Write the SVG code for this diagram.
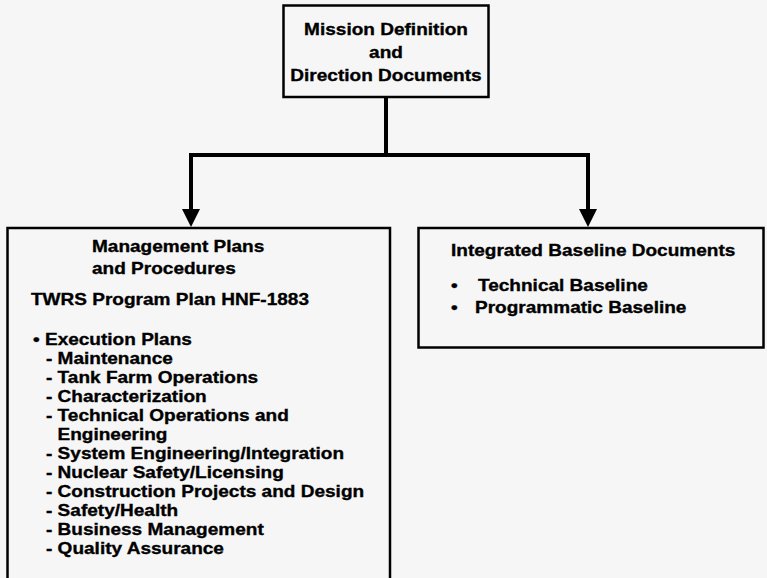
<svg xmlns="http://www.w3.org/2000/svg" width="767" height="578" viewBox="0 0 767 578">
  <style>
    .box { fill: none; stroke: #000; stroke-width: 2.5; }
    .wire { fill: none; stroke: #000; stroke-width: 4; stroke-linejoin: miter; stroke-linecap: square; }
    .head { fill: #000; }
    text { font-family: "Liberation Sans", Arial, Helvetica, sans-serif; font-weight: bold; font-size: 17px; fill: #000; stroke: #000; stroke-width: 0.35; }
    .mid { text-anchor: middle; }
  </style>
  <rect width="767" height="578" fill="#f6f6f6"/>

  <!-- connectors: trunk, crossbar and two drops with arrowheads -->
  <g id="connectors">
    <path class="wire" d="M386,98 V155 M191,155 H588 M191,155 V210 M588,155 V210"/>
    <polygon class="head" points="182,209 200,209 191,227"/>
    <polygon class="head" points="579,209 597,209 588,227"/>
  </g>

  <!-- top node -->
  <g id="mission">
    <rect class="box" x="283.5" y="5.5" width="205" height="91.5"/>
    <text class="mid" transform="translate(386,35) scale(1.12,1)">Mission Definition</text>
    <text class="mid" transform="translate(386,58) scale(1.12,1)">and</text>
    <text class="mid" transform="translate(386,81) scale(1.12,1)">Direction Documents</text>
  </g>

  <!-- left node: management plans -->
  <g id="management">
    <rect class="box" x="7.5" y="228" width="382.5" height="380"/>
    <text transform="translate(92,252) scale(1.12,1)">Management Plans</text>
    <text transform="translate(92,274) scale(1.12,1)">and Procedures</text>
    <text transform="translate(31,305) scale(1.12,1)">TWRS Program Plan HNF-1883</text>
    <text transform="translate(33,345) scale(1.12,1)">• Execution Plans</text>
    <text transform="translate(46,364) scale(1.12,1)">- Maintenance</text>
    <text transform="translate(46,383) scale(1.12,1)">- Tank Farm Operations</text>
    <text transform="translate(46,402) scale(1.12,1)">- Characterization</text>
    <text transform="translate(46,421) scale(1.12,1)">- Technical Operations and</text>
    <text transform="translate(57.5,440) scale(1.12,1)">Engineering</text>
    <text transform="translate(46,459) scale(1.12,1)">- System Engineering/Integration</text>
    <text transform="translate(46,478) scale(1.12,1)">- Nuclear Safety/Licensing</text>
    <text transform="translate(46,497) scale(1.12,1)">- Construction Projects and Design</text>
    <text transform="translate(46,516) scale(1.12,1)">- Safety/Health</text>
    <text transform="translate(46,535) scale(1.12,1)">- Business Management</text>
    <text transform="translate(46,554) scale(1.12,1)">- Quality Assurance</text>
  </g>

  <!-- right node: integrated baseline -->
  <g id="baseline">
    <rect class="box" x="418.5" y="228" width="345" height="119.5"/>
    <text transform="translate(451,256) scale(1.12,1)">Integrated Baseline Documents</text>
    <text transform="translate(451,291) scale(1.12,1)">•</text>
    <text transform="translate(478,291) scale(1.12,1)">Technical Baseline</text>
    <text transform="translate(451,313) scale(1.12,1)">•</text>
    <text transform="translate(475,313) scale(1.12,1)">Programmatic Baseline</text>
  </g>
</svg>
